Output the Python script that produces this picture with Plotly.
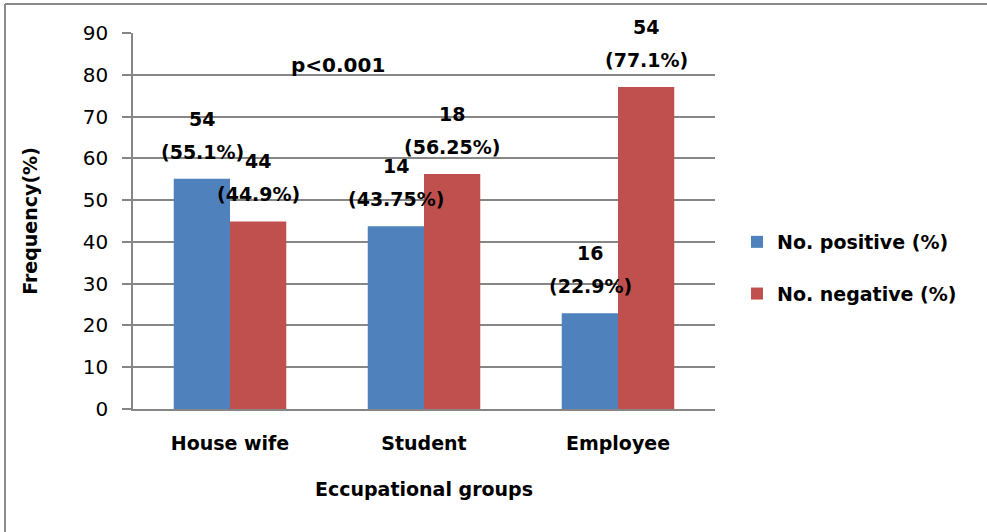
import plotly.graph_objects as go

categories = ["House wife", "Student", "Employee"]
series_names = ["No. positive (%)", "No. negative (%)"]
positive_counts = [54, 14, 16]
positive_pct = [55.1, 43.75, 22.9]
negative_counts = [44, 18, 54]
negative_pct = [44.9, 56.25, 77.1]
y_ticks = [0, 10, 20, 30, 40, 50, 60, 70, 80, 90]

BLUE = "#4F81BD"
RED = "#C0504D"
GRID = "#868686"
FONT = "DejaVu Sans"

fig = go.Figure()
fig.add_trace(go.Bar(x=categories, y=positive_pct, name=series_names[0],
                     marker=dict(color=BLUE, line=dict(width=0)),
                     legendgroup="a"))
fig.add_trace(go.Bar(x=categories, y=negative_pct, name=series_names[1],
                     marker=dict(color=RED, line=dict(width=0)),
                     legendgroup="b"))

annotations = []
for counts, pcts, sh in [(positive_counts, positive_pct, -28), (negative_counts, negative_pct, 28)]:
    for cat, c, p in zip(categories, counts, pcts):
        annotations.append(dict(x=cat, y=p, text=f"<b>{c}</b>", showarrow=False,
                                xshift=sh, yshift=60, yanchor="middle",
                                font=dict(family=FONT, size=19, color="black")))
        annotations.append(dict(x=cat, y=p, text=f"<b>({p:g}%)</b>", showarrow=False,
                                xshift=sh, yshift=27, yanchor="middle",
                                font=dict(family=FONT, size=19, color="black")))
annotations.append(dict(xref="paper", x=0.352, y=82.3, text="<b>p<0.001</b>",
                        showarrow=False, font=dict(family=FONT, size=20, color="black")))

shapes = [
    dict(type="line", xref="paper", yref="paper", x0=-0.2199, x1=1.5, y0=1.0771, y1=1.0771,
         line=dict(color="#8a8a8a", width=2)),
    dict(type="line", xref="paper", yref="paper", x0=-0.2199, x1=-0.2199, y0=1.0771, y1=-0.4,
         line=dict(color="#8a8a8a", width=2)),
]

fig.update_layout(
    width=987, height=532,
    margin=dict(l=133, r=272, t=33, b=123, autoexpand=False),
    paper_bgcolor="white", plot_bgcolor="white",
    barmode="group", bargap=0.42, bargroupgap=0,
    font=dict(family=FONT, color="black"),
    legend=dict(x=1.0378, y=0.375, xanchor="left", yanchor="middle",
                font=dict(family=FONT, size=19, color="black", weight="bold"),
                tracegroupgap=24, traceorder="grouped"),
    annotations=annotations,
    shapes=shapes,
    xaxis=dict(showgrid=False, showline=True, linecolor=GRID, linewidth=1.5,
               ticks="", tickfont=dict(family=FONT, size=19, color="black", weight="bold"),
               ticklabelstandoff=16,
               title=dict(text="<b>Eccupational groups</b>", standoff=30,
                          font=dict(family=FONT, size=19, color="black"))),
    yaxis=dict(range=[0, 90], tickvals=y_ticks, showgrid=True, gridcolor=GRID, gridwidth=1.5,
               showline=True, linecolor=GRID, linewidth=1.5, zeroline=False,
               ticks="outside", ticklen=9, tickcolor=GRID, tickwidth=1.5,
               ticklabelstandoff=10,
               tickfont=dict(family=FONT, size=20, color="black"),
               title=dict(text="<b>Frequency(%)</b>", standoff=40,
                          font=dict(family=FONT, size=19, color="black"))),
)

fig.write_html("out.html", config={"displayModeBar": False},
               post_script="document.body.style.margin='0px';")
